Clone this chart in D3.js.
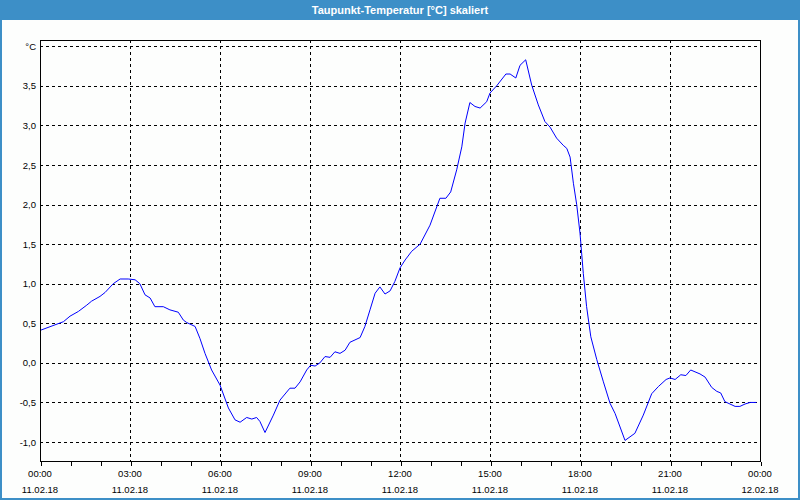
<!DOCTYPE html>
<html lang="de">
<head>
  <meta charset="UTF-8">
  <title>Taupunkt-Temperatur</title>
  <script src="https://d3js.org/d3.v7.min.js"></script>
  <style>
    body { margin: 0; padding: 0; background: #fdfefd; }
    svg { display: block; font-family: "Liberation Sans", Arial, sans-serif; }
    .grid line { stroke: #000; stroke-dasharray: 3,3; shape-rendering: crispEdges; }
    .lbl { font-size: 9.5px; fill: #000; }
  </style>
</head>
<body>
  <svg id="chart" width="800" height="500"></svg>
  <script>
    // Stunden ab 11.02.18 00:00
    const hours = [0, 0.78, 1.0, 1.28, 1.56, 1.72, 2.0, 2.17, 2.44, 2.67, 2.94, 3.17, 3.33, 3.5, 3.67, 3.83,
      4.11, 4.33, 4.61, 4.78, 4.89, 5.17, 5.33, 5.5, 5.72, 6.0, 6.28, 6.5, 6.67, 6.89, 7.06, 7.22, 7.33,
      7.5, 7.78, 8.0, 8.33, 8.5, 8.67, 8.89, 9.02, 9.17, 9.33, 9.5, 9.67, 9.83, 10.0, 10.17, 10.33, 10.67,
      10.83, 11.0, 11.17, 11.33, 11.5, 11.67, 11.83, 12.0, 12.17, 12.39, 12.67, 13.0, 13.33, 13.53, 13.69,
      13.89, 14.06, 14.17, 14.33, 14.5, 14.67, 14.89, 15.0, 15.22, 15.53, 15.67, 15.86, 16.0, 16.19, 16.39,
      16.61, 16.83, 17.0, 17.22, 17.44, 17.56, 17.67, 17.78, 17.89, 18.0, 18.11, 18.22, 18.36, 18.56, 18.78,
      19.0, 19.17, 19.5, 19.83, 20.11, 20.39, 20.61, 20.87, 21.0, 21.17, 21.36, 21.53, 21.69, 22.0, 22.17,
      22.39, 22.56, 22.69, 22.83, 23.17, 23.33, 23.5, 23.67, 23.88];
    const values = [0.41, 0.52, 0.59, 0.65, 0.73, 0.78, 0.84, 0.89, 1.0, 1.06, 1.06, 1.05, 1.0, 0.86, 0.82, 0.71,
      0.71, 0.67, 0.64, 0.54, 0.51, 0.46, 0.31, 0.12, -0.09, -0.28, -0.57, -0.72, -0.75, -0.69, -0.71, -0.69, -0.74,
      -0.88, -0.66, -0.47, -0.32, -0.32, -0.24, -0.09, -0.03, -0.04, 0.0, 0.08, 0.07, 0.14, 0.12, 0.16, 0.26, 0.32,
      0.46, 0.67, 0.88, 0.96, 0.87, 0.91, 1.03, 1.2, 1.3, 1.41, 1.5, 1.74, 2.08, 2.08, 2.16,
      2.44, 2.73, 3.03, 3.29, 3.24, 3.22, 3.30, 3.41, 3.50, 3.65, 3.65, 3.60, 3.76, 3.83, 3.51,
      3.26, 3.05, 2.98, 2.84, 2.75, 2.71, 2.60, 2.27, 2.0, 1.64, 1.13, 0.71, 0.33, 0.04, -0.24,
      -0.51, -0.64, -0.98, -0.89, -0.66, -0.39, -0.30, -0.21, -0.19, -0.21, -0.15, -0.16, -0.09, -0.14, -0.18,
      -0.31, -0.36, -0.38, -0.49, -0.55, -0.55, -0.52, -0.50, -0.50];
    const yTicks = [-1.0, -0.5, 0.0, 0.5, 1.0, 1.5, 2.0, 2.5, 3.0, 3.5, 4.0];
    const xTickHours = [0, 3, 6, 9, 12, 15, 18, 21, 24];
    const title = "Taupunkt-Temperatur [°C] skaliert";

    const start = new Date(2018, 1, 11, 0, 0);
    const toDate = h => new Date(start.getTime() + h * 3600000);
    const data = hours.map((h, i) => ({ t: toDate(h), v: values[i] }));

    const svg = d3.select("#chart");
    const plotL = 40, plotR = 760, plotT = 40, plotB = 461;

    // Rahmen + Titelleiste
    svg.append("rect").attr("x", 0).attr("y", 0).attr("width", 800).attr("height", 500).attr("fill", "#fdfefd");
    svg.append("rect").attr("x", 0).attr("y", 0).attr("width", 800).attr("height", 20).attr("fill", "#3d8fc7");
    svg.append("rect").attr("x", 0).attr("y", 0).attr("width", 2).attr("height", 500).attr("fill", "#3d8fc7");
    svg.append("rect").attr("x", 798).attr("y", 0).attr("width", 2).attr("height", 500).attr("fill", "#3d8fc7");
    svg.append("rect").attr("x", 0).attr("y", 498).attr("width", 800).attr("height", 2).attr("fill", "#3d8fc7");
    svg.append("text").attr("x", 400).attr("y", 14).attr("text-anchor", "middle")
      .attr("fill", "#fff").style("font-size", "11px").style("font-weight", "bold").text(title);

    const x = d3.scaleTime().domain([start, toDate(24)]).range([plotL, plotR]);
    const y = d3.scaleLinear().domain([-1.24, 4.08]).range([plotB, plotT]);

    // Gitter
    const grid = svg.append("g").attr("class", "grid");
    grid.selectAll("line.h").data(yTicks).join("line").attr("class", "h")
      .attr("x1", plotL).attr("x2", plotR)
      .attr("y1", d => Math.round(y(d)) + 0.5).attr("y2", d => Math.round(y(d)) + 0.5);
    grid.selectAll("line.v").data(xTickHours.slice(1, -1)).join("line").attr("class", "v")
      .attr("y1", plotT).attr("y2", plotB)
      .attr("x1", d => Math.round(x(toDate(d))) + 0.5).attr("x2", d => Math.round(x(toDate(d))) + 0.5);

    // Kurve
    const line = d3.line().x(d => x(d.t)).y(d => y(d.v));
    svg.append("path").datum(data).attr("d", line)
      .attr("fill", "none").attr("stroke", "#0000ff").attr("stroke-width", 1);

    // Achsenrahmen
    svg.append("rect").attr("x", plotL + 0.5).attr("y", plotT + 0.5)
      .attr("width", plotR - plotL).attr("height", plotB - plotT)
      .attr("fill", "none").attr("stroke", "#000").attr("shape-rendering", "crispEdges");

    // stündliche Ticks
    const xAxis = d3.axisBottom(x).ticks(d3.timeHour.every(1)).tickSize(4).tickFormat("");
    const gx = svg.append("g").attr("transform", `translate(0.5,${plotB + 0.5})`).call(xAxis);
    gx.select(".domain").remove();
    gx.selectAll("line").attr("shape-rendering", "crispEdges");

    // X-Beschriftung
    const fmtT = d3.timeFormat("%H:%M"), fmtD = d3.timeFormat("%d.%m.%y");
    const xl = svg.append("g").selectAll("g").data(xTickHours).join("g");
    xl.append("text").attr("class", "lbl").attr("text-anchor", "middle")
      .attr("x", d => x(toDate(d))).attr("y", 477).text(d => fmtT(toDate(d)));
    xl.append("text").attr("class", "lbl").attr("text-anchor", "middle")
      .attr("x", d => x(toDate(d))).attr("y", 493).text(d => fmtD(toDate(d)));

    // Y-Beschriftung
    svg.append("g").selectAll("text").data(yTicks).join("text").attr("class", "lbl")
      .attr("text-anchor", "end").attr("x", 36).attr("y", d => y(d) + 3.5)
      .text(d => d === 4 ? "°C" : d3.format(".1f")(d).replace(".", ",").replace("−", "-"));
  </script>
</body>
</html>
